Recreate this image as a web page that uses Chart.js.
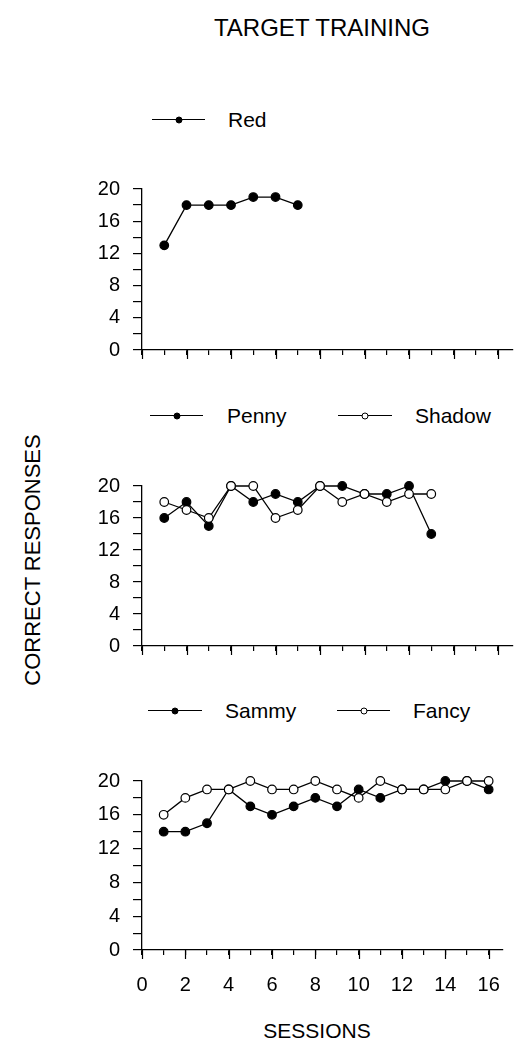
<!DOCTYPE html>
<html>
<head>
<meta charset="utf-8">
<script src="https://cdn.jsdelivr.net/npm/chart.js@4.4.0/dist/chart.umd.min.js"></script>
<style>
  body { margin: 0; background: #fff; width: 518px; height: 1049px; position: relative; overflow: hidden;
         font-family: "Liberation Sans", Arial, Helvetica, sans-serif; color: #000; }
  canvas { position: absolute; left: 0; }
  .txt { position: absolute; white-space: nowrap; line-height: 1; transform: translate(-50%, -50%); }
  .title { font-size: 24px; left: 322px; top: 28px; }
  .ytitle { font-size: 22px; left: 33px; top: 560px; transform: translate(-50%, -50%) rotate(-90deg); }
  .xtitle { font-size: 21px; left: 317px; top: 1030px; }
  .key-line { position: absolute; height: 0; border-top: 1.3px solid #000; }
  .key-dot { position: absolute; width: 7px; height: 7px; border-radius: 50%; box-sizing: border-box;
             border: 1.2px solid #000; transform: translate(-50%, -50%); }
  .key-text { position: absolute; font-size: 21px; line-height: 1; transform: translateY(-50%); }
</style>
</head>
<body>
<div class="txt title">TARGET TRAINING</div>
<div class="txt ytitle">CORRECT RESPONSES</div>
<div class="txt xtitle">SESSIONS</div>

<canvas id="chartRed" width="518" height="211" style="top:164px"></canvas>
<canvas id="chartPenny" width="518" height="210" style="top:461px"></canvas>
<canvas id="chartSammy" width="518" height="244" style="top:756px"></canvas>

<script>
// sessions and axis ticks
const sessions = [1, 2, 3, 4, 5, 6, 7, 8, 9, 10, 11, 12, 13, 14, 15, 16];
const sessionTicks = [0, 1, 2, 3, 4, 5, 6, 7, 8, 9, 10, 11, 12, 13, 14, 15, 16];
const sessionLabels = [0, 2, 4, 6, 8, 10, 12, 14, 16];
const responseTicks = [0, 2, 4, 6, 8, 10, 12, 14, 16, 18, 20];
const responseLabels = [0, 4, 8, 12, 16, 20];

// correct responses per session
const red = [13, 18, 18, 18, 19, 19, 18];
const penny = [16, 18, 15, 20, 18, 19, 18, 20, 20, 19, 19, 20, 14];
const shadow = [18, 17, 16, 20, 20, 16, 17, 20, 18, 19, 18, 19, 19];
const sammy = [14, 14, 15, 19, 17, 16, 17, 18, 17, 19, 18, 19, 19, 20, 20, 19];
const fancy = [16, 18, 19, 19, 20, 19, 19, 20, 19, 18, 20, 19, 19, 19, 20, 20];

const FONT = '"Liberation Sans", Arial, Helvetica, sans-serif';

function series(label, values, filled) {
  return {
    label,
    data: values.map((v, i) => ({ x: sessions[i], y: v })),
    borderColor: '#000',
    borderWidth: 1.3,
    backgroundColor: filled ? '#000' : '#fff',
    pointBackgroundColor: filled ? '#000' : '#fff',
    pointBorderColor: '#000',
    pointBorderWidth: 1.2,
    pointRadius: 4.3,
    fill: false,
    tension: 0,
    clip: false,
    order: filled ? 1 : 0
  };
}

// even sessions get a longer tick mark below the axis
const longTicks = {
  id: 'longTicks',
  afterDraw(chart) {
    const s = chart.scales.x, ctx = chart.ctx, y0 = chart.chartArea.bottom;
    ctx.save();
    ctx.strokeStyle = '#000';
    ctx.lineWidth = 1.2;
    sessionLabels.forEach(v => {
      const px = Math.round(s.getPixelForValue(v)) + 0.5;
      ctx.beginPath();
      ctx.moveTo(px, y0);
      ctx.lineTo(px, y0 + 9);
      ctx.stroke();
    });
    ctx.restore();
  }
};

function makeChart(id, datasets, showLabels) {
  return new Chart(document.getElementById(id), {
    type: 'line',
    data: { datasets },
    plugins: [longTicks],
    options: {
      responsive: false,
      animation: false,
      devicePixelRatio: 1,
      layout: { padding: { top: 10, right: 0, bottom: 0, left: 0 } },
      plugins: { legend: { display: false }, tooltip: { enabled: false } },
      scales: {
        x: {
          type: 'linear', min: 0, max: 16.65,
          afterBuildTicks: s => { s.ticks = sessionTicks.map(v => ({ value: v })); },
          afterFit: s => { s.height = showLabels ? 50 : 16; },
          grid: { drawOnChartArea: false, drawTicks: true, tickLength: 5, color: '#000', lineWidth: 1.2 },
          border: { display: true, color: '#000', width: 1.3 },
          ticks: {
            display: showLabels, color: '#000', padding: 18, maxRotation: 0, autoSkip: false,
            font: { family: FONT, size: 20 },
            callback: v => sessionLabels.includes(v) ? String(v) : ''
          }
        },
        y: {
          min: 0, max: 20,
          afterBuildTicks: s => { s.ticks = responseTicks.map(v => ({ value: v })); },
          afterFit: s => { s.width = 142; },
          grid: { drawOnChartArea: false, drawTicks: true, tickLength: 9, color: '#000', lineWidth: 1.2 },
          border: { display: true, color: '#000', width: 1.3 },
          ticks: {
            color: '#000', padding: 13, autoSkip: false,
            font: { family: FONT, size: 20 },
            callback: v => responseLabels.includes(v) ? String(v) : ''
          }
        }
      }
    }
  });
}

makeChart('chartRed', [series('Red', red, true)], false);
makeChart('chartPenny', [series('Penny', penny, true), series('Shadow', shadow, false)], false);
makeChart('chartSammy', [series('Sammy', sammy, true), series('Fancy', fancy, false)], true);

// legend keys: line with marker, then name
function addKey(x1, x2, y, filled, label, textX) {
  const line = document.createElement('div');
  line.className = 'key-line';
  line.style.left = x1 + 'px';
  line.style.width = (x2 - x1) + 'px';
  line.style.top = y + 'px';
  document.body.appendChild(line);
  const dot = document.createElement('div');
  dot.className = 'key-dot';
  dot.style.left = ((x1 + x2) / 2) + 'px';
  dot.style.top = (y + 0.6) + 'px';
  dot.style.background = filled ? '#000' : '#fff';
  document.body.appendChild(dot);
  const txt = document.createElement('div');
  txt.className = 'key-text';
  txt.style.left = textX + 'px';
  txt.style.top = y + 'px';
  txt.textContent = label;
  document.body.appendChild(txt);
}

addKey(152, 205, 119, true, 'Red', 228);
addKey(150, 203, 415, true, 'Penny', 227);
addKey(338, 392, 415, false, 'Shadow', 415);
addKey(148, 202, 710, true, 'Sammy', 225);
addKey(337, 390, 710, false, 'Fancy', 413);
</script>
</body>
</html>
